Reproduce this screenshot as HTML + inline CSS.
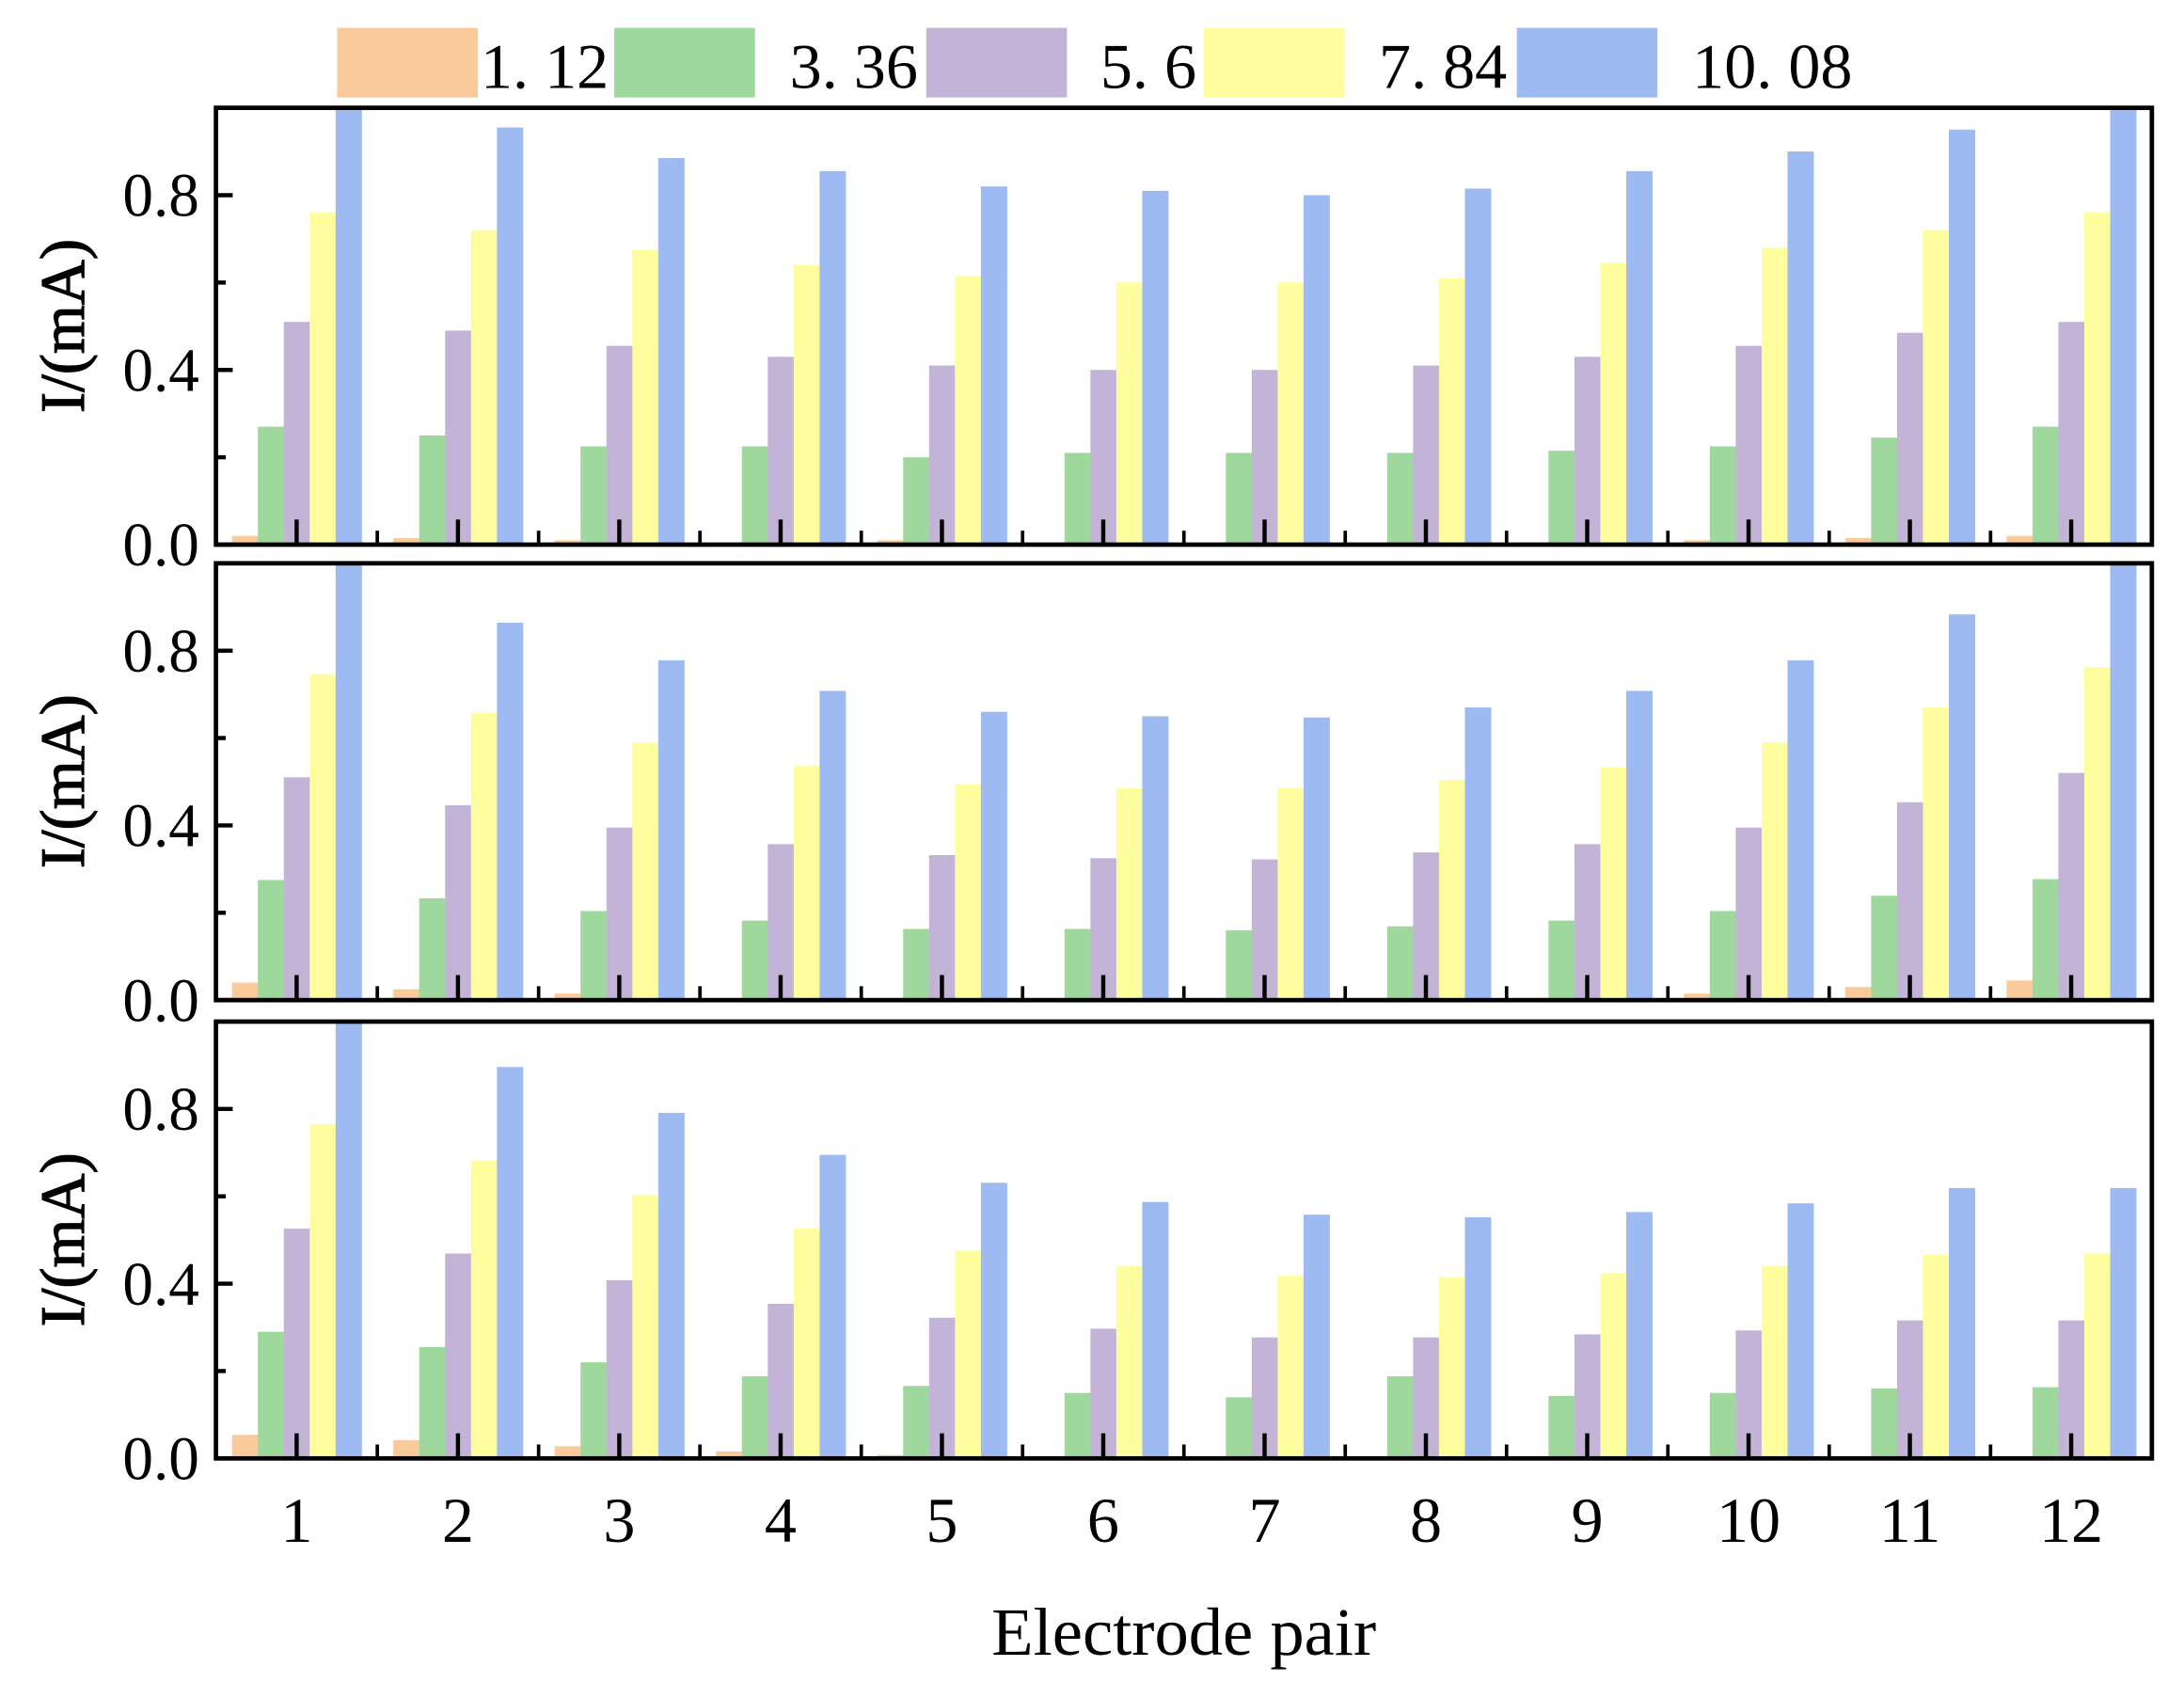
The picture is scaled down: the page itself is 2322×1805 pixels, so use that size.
<!DOCTYPE html>
<html><head><meta charset="utf-8"><style>
html,body{margin:0;padding:0;background:#fff;}
svg{display:block;}
text{font-family:"Liberation Serif",serif;fill:#000;}
</style></head><body>
<svg id="chart" width="2322" height="1805" viewBox="0 0 1568 1219" xmlns="http://www.w3.org/2000/svg">
<g id="legend"></g>
<g id="panels"></g>
<text x="850" y="1188" font-size="49" text-anchor="middle">Electrode pair</text>
</svg>
<script>
const categories = ["1","2","3","4","5","6","7","8","9","10","11","12"];
const seriesNames = ["1. 12","3. 36","5. 6","7. 84","10. 08"];
const colors = ["#FBCA9A","#9FD89D","#C2B3D7","#FEFE9E","#9DBBF2"];
const yTicks = [0.0, 0.4, 0.8];
const yTickLabels = ["0.0","0.4","0.8"];
const p1Orange = [0.02,0.015,0.01,0.005,0.01,0.003,0.003,0.003,0.005,0.01,0.015,0.02];
const p1Green = [0.27,0.25,0.225,0.225,0.20,0.21,0.21,0.21,0.215,0.225,0.245,0.27];
const p1Purple = [0.51,0.49,0.455,0.43,0.41,0.40,0.40,0.41,0.43,0.455,0.485,0.51];
const p1Yellow = [0.76,0.72,0.675,0.64,0.615,0.60,0.60,0.61,0.645,0.68,0.72,0.76];
const p1Blue = [1.0,0.955,0.885,0.855,0.82,0.81,0.80,0.815,0.855,0.90,0.95,1.0];
const p2Orange = [0.04,0.025,0.015,0.005,0,0,0,0,0.005,0.015,0.03,0.045];
const p2Green = [0.275,0.233,0.204,0.182,0.163,0.163,0.16,0.169,0.182,0.204,0.239,0.277];
const p2Purple = [0.51,0.446,0.395,0.357,0.332,0.325,0.322,0.338,0.357,0.395,0.453,0.52];
const p2Yellow = [0.746,0.657,0.59,0.536,0.494,0.485,0.485,0.504,0.533,0.59,0.67,0.762];
const p2Blue = [1.0,0.864,0.778,0.708,0.66,0.65,0.647,0.67,0.708,0.778,0.883,1.0];
const p3Orange = [0.054,0.042,0.028,0.016,0.008,0.002,0.001,0,0,0,0.005,0.005];
const p3Green = [0.29,0.255,0.22,0.188,0.166,0.15,0.14,0.188,0.143,0.15,0.16,0.163];
const p3Purple = [0.526,0.469,0.408,0.354,0.322,0.297,0.277,0.277,0.284,0.293,0.316,0.316];
const p3Yellow = [0.765,0.682,0.603,0.526,0.475,0.44,0.418,0.415,0.424,0.44,0.466,0.469];
const p3Blue = [1.0,0.896,0.791,0.695,0.631,0.587,0.558,0.552,0.564,0.584,0.619,0.619];

const NS="http://www.w3.org/2000/svg";
function mk(tag, attrs, parent){const e=document.createElementNS(NS,tag);for(const k in attrs)e.setAttribute(k,attrs[k]);parent.appendChild(e);return e;}
const left=155, right=1545, groupW=(right-left)/categories.length, barW=18.6, barOff=11.5;
const scale=313.6;
const panels=[{zero:391,data:[p1Orange,p1Green,p1Purple,p1Yellow,p1Blue]},
              {zero:718,data:[p2Orange,p2Green,p2Purple,p2Yellow,p2Blue]},
              {zero:1047,data:[p3Orange,p3Green,p3Purple,p3Yellow,p3Blue]}];
const root=document.getElementById('panels');
panels.forEach((p,pi)=>{
  const g=mk('g',{},root);
  
  
  const y=v=>p.zero-v*scale;
  const x=i=>left+i*groupW;
  p.data.forEach((vals,si)=>{
    vals.forEach((v,ci)=>{
      const r=mk('rect',{x:x(ci)+barOff+si*barW,y:y(v),width:barW+0.3,height:v*scale,fill:colors[si]},g);
      
      
    });
  });
  categories.forEach((c,ci)=>{
    const cx=x(ci)+groupW/2;
    mk('line',{x1:cx,x2:cx,y1:p.zero,y2:p.zero-18,stroke:'#000','stroke-width':3},g);
    if(ci>0) mk('line',{x1:x(ci),x2:x(ci),y1:p.zero,y2:p.zero-10,stroke:'#000','stroke-width':2.5},g);
  });
  [0.2,0.6].forEach(v=>mk('line',{x1:left,x2:left+7,y1:y(v),y2:y(v),stroke:'#000','stroke-width':3},g));
  yTicks.forEach((v,ti)=>{
    mk('line',{x1:left,x2:left+12,y1:y(v),y2:y(v),stroke:'#000','stroke-width':3},g);
    const t=mk('text',{x:143,y:y(v)+15,'font-size':44,'text-anchor':'end'},g);
    t.textContent=yTickLabels[ti];
    
    
  });
  const fr=mk('rect',{x:left,y:y(1.0),width:right-left,height:scale,fill:'none',stroke:'#000','stroke-width':3.2},g);
  
  
  const yt=mk('text',{x:0,y:0,'font-size':45,'text-anchor':'middle',stroke:'#000','stroke-width':0.8,transform:'translate(60,'+(p.zero-157)+') rotate(-90)'},g);
  yt.textContent='I/(mA)';
  
  
});
const svg=document.getElementById('chart');
categories.forEach((c,ci)=>{
  const t=mk('text',{x:left+ci*groupW+groupW/2,y:1107,'font-size':46,'text-anchor':'middle'},svg);
  t.textContent=c;
  
  
});
const lg=document.getElementById('legend');
const boxX=[242,441,665,864,1089], txtX=[345,567,790,990,1215];
seriesNames.forEach((n,si)=>{
  const r=mk('rect',{x:boxX[si],y:20,width:101,height:50,fill:colors[si]},lg);
  
  
  const t=mk('text',{x:txtX[si],y:63,'font-size':46},lg);
  t.textContent=n;
  
  
});
</script>
</body></html>
